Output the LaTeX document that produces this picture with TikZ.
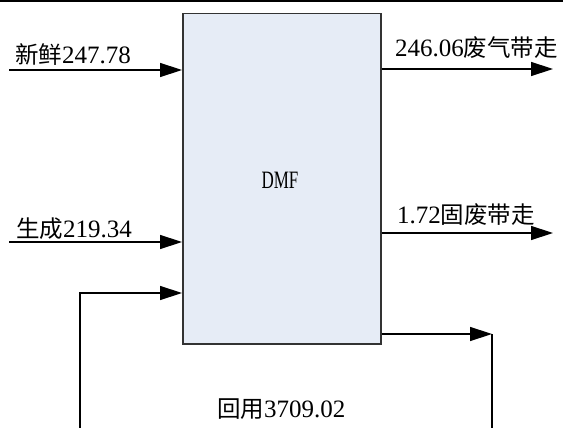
\documentclass[tikz,border=0pt]{standalone}
\usepackage{fontspec}
\setmainfont{Liberation Serif}
\newfontfamily\cjk[Scale=0.94]{Noto Sans CJK SC}
\usetikzlibrary{arrows.meta}
\begin{document}
\begin{tikzpicture}[x=1pt,y=-1pt,
  flow/.style={line width=1.4pt, -{Triangle[length=22pt,width=14pt]}},
  plain/.style={line width=1.4pt},
  lbl/.style={anchor=base west, inner sep=0pt, font=\fontsize{25}{29}\selectfont}]
\useasboundingbox (0,0) rectangle (563,428);
\draw[line width=2pt] (0,1) -- (563,1);
\node[draw=black!80, line width=1.5pt, fill={rgb,255:red,230;green,236;blue,246},
  minimum width=198pt, minimum height=330pt, inner sep=0pt, anchor=north west] (dmf) at (182,13) {};
\node[font=\fontsize{25}{29}\selectfont, xscale=0.68, inner sep=0pt] (dmft) at (280,180) {DMF};
% inputs
\coordinate (a1) at (9,70);
\coordinate (a2) at (9,242);
\draw[flow] (a1) -- (a1 -| dmf.west);
\draw[flow] (a2) -- (a2 -| dmf.west);
% recycle in
\coordinate (r0) at (80,428);
\coordinate (r1) at (80,293);
\draw[flow] (r0) -- (r1) -- (r1 -| dmf.west);
% outputs
\coordinate (b1) at (553,69);
\coordinate (b2) at (553,233);
\draw[flow] (b1 -| dmf.east) -- (b1);
\draw[flow] (b2 -| dmf.east) -- (b2);
% recycle out
\coordinate (c1) at (492,334);
\coordinate (c2) at (492,428);
\draw[flow] (c1 -| dmf.east) -- (c1);
\draw[plain] (c1) -- (c2);
% labels
\node[lbl] (l1) at (15,64) {{\cjk 新鲜}247.78};
\node[lbl] (l2) at (16,237) {{\cjk 生成}219.34};
\node[lbl] (l3) at (395,57) {246.06{\cjk 废气带走}};
\node[lbl] (l4) at (397,223) {1.72{\cjk 固废带走}};
\node[lbl] (l5) at (217,417) {{\cjk 回用}3709.02};
\end{tikzpicture}
\end{document}
